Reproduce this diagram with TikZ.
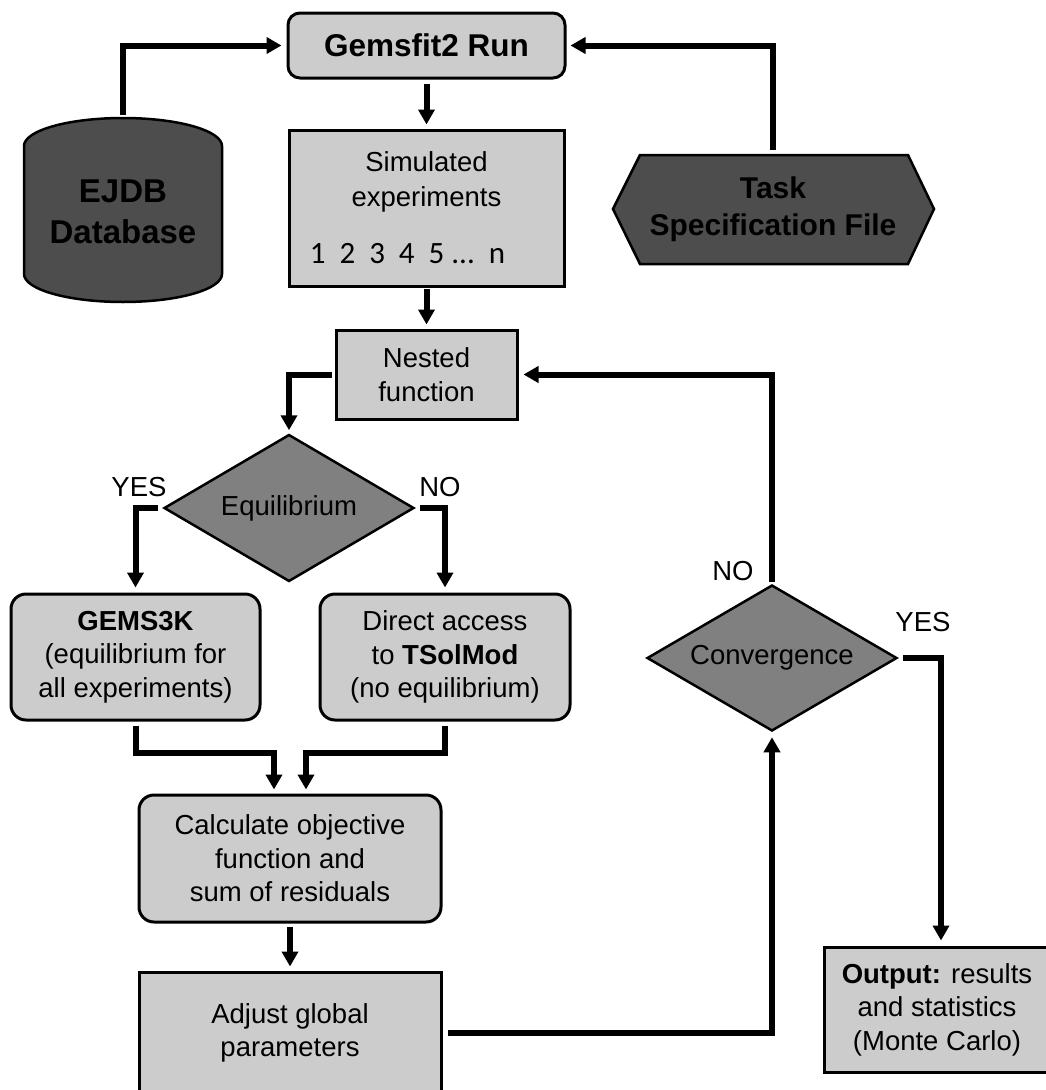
\documentclass[tikz,border=0pt]{standalone}
\usepackage{fontspec}
\setmainfont{Liberation Sans}
\newfontfamily\carlito{Carlito}
\usetikzlibrary{shapes.geometric,arrows.meta}
\definecolor{lightg}{RGB}{204,204,204}
\definecolor{midg}{RGB}{128,128,128}
\definecolor{darkg}{RGB}{77,77,77}
\begin{document}
\begin{tikzpicture}[x=1pt,y=-1pt,
  box/.style={draw=black, line width=3pt, fill=lightg, inner sep=0pt, align=center, font=\fontsize{27.5}{33.5}\selectfont},
  rbox/.style={box, rounded corners=15pt},
  dia/.style={diamond, draw=black, line width=2.5pt, fill=midg, inner sep=0pt, font=\fontsize{27.5}{33}\selectfont, minimum width=250pt, minimum height=147pt, aspect=1.7},
  dark/.style={draw=black, line width=2.5pt, fill=darkg},
  title/.style={align=center, inner sep=0pt, outer sep=0pt},
  conn/.style={line width=6pt, -{Triangle[width=16pt,length=15pt]}},
  lab/.style={font=\fontsize{27.5}{33}\selectfont, inner sep=0pt}]
\useasboundingbox (0,0) rectangle (1045,1090);

% EJDB cylinder
\draw[dark] (24,146) arc[start angle=180, end angle=0, x radius=99pt, y radius=28pt]
  -- (222,274) arc[start angle=0, end angle=-180, x radius=99pt, y radius=28pt] -- cycle;
\node[title, font=\bfseries\fontsize{33}{41}\selectfont, minimum width=198pt, minimum height=194pt] (ejdb) at (123,212) {EJDB\\Database};

% Task hexagon
\draw[dark] (613,209) -- (640,155) -- (908,155) -- (934,209) -- (908,264) -- (640,264) -- cycle;
\node[title, font=\bfseries\fontsize{30}{37}\selectfont, minimum width=320pt, minimum height=114pt] (task) at (773,209) {Task\\Specification File};

% boxes
\node[rbox, rounded corners=12pt, minimum width=277pt, minimum height=65pt, font=\bfseries\fontsize{31.5}{36}\selectfont] (run) at (426.5,45.5) {Gemsfit2 Run};
\node[box, minimum width=275pt, minimum height=156pt, font=\fontsize{27.5}{35}\selectfont] (sim) at (426.5,208)
  {Simulated\\experiments\\[22pt]{\carlito\fontsize{31}{35}\selectfont\spaceskip=14pt\mbox{1 2 3 4 5\kern7pt...\kern14pt n\kern38pt}}};
\node[box, minimum width=181pt, minimum height=89pt] (nested) at (426.5,374.5) {Nested\\function};
\node[dia] (eq) at (289,508) {Equilibrium};
\node[dia, minimum height=146pt] (conv) at (772,658) {Convergence};
\node[rbox, minimum width=249pt, minimum height=126pt] (gems) at (135.5,657) {\textbf{GEMS3K}\\(equilibrium for\\all experiments)};
\node[rbox, minimum width=250pt, minimum height=126pt] (direct) at (445,657) {Direct access\\to \textbf{TSolMod}\\(no equilibrium)};
\node[rbox, minimum width=302pt, minimum height=127pt] (calc) at (290,858.5) {Calculate objective\\function and\\sum of residuals};
\node[box, minimum width=302pt, minimum height=122pt] (adjust) at (290,1033) {Adjust global\\parameters};
\node[box, minimum width=226pt, minimum height=125pt] (output) at (937,1009.5) {\textbf{Output:} results\\and statistics\\(Monte Carlo)};

% labels
\node[lab] (yes1) at (139,487) {YES};
\node[lab] (no1) at (440,487) {NO};
\node[lab] (no2) at (733,571) {NO};
\node[lab] (yes2) at (923,622) {YES};

% connectors
\draw[conn, shorten >=5pt] (ejdb.north) |- (run.west);
\draw[conn, shorten <=2pt, shorten >=4pt] (task.north) |- (run.east);
\draw[conn, shorten <=4pt, shorten >=4pt] (run.south) -- (sim.north);
\draw[conn, shorten <=1pt, shorten >=4pt] (sim.south) -- (nested.north);
\draw[conn, shorten <=3pt, shorten >=3pt] (nested.west) -| (eq.north);
\draw[conn, shorten <=5pt, shorten >=5pt] (eq.west) -| (gems.north);
\draw[conn, shorten <=5pt, shorten >=5pt] (eq.east) -| (direct.north);
\draw[conn, shorten <=4pt, shorten >=4pt] (gems.south) -- ++(0,31) -| ([xshift=-16pt]calc.north);
\draw[conn, shorten <=4pt, shorten >=4pt] (direct.south) -- ++(0,31) -| ([xshift=16pt]calc.north);
\draw[conn, shorten <=3pt, shorten >=4pt] (calc.south) -- (adjust.north);
\draw[conn, shorten <=5pt, shorten >=5pt] (adjust.east) -| (conv.south);
\draw[conn, shorten <=2pt, shorten >=5pt] (conv.north) |- (nested.east);
\draw[conn, shorten <=5pt, shorten >=5pt] (conv.east) -| ([xshift=4pt]output.north);
\end{tikzpicture}
\end{document}
